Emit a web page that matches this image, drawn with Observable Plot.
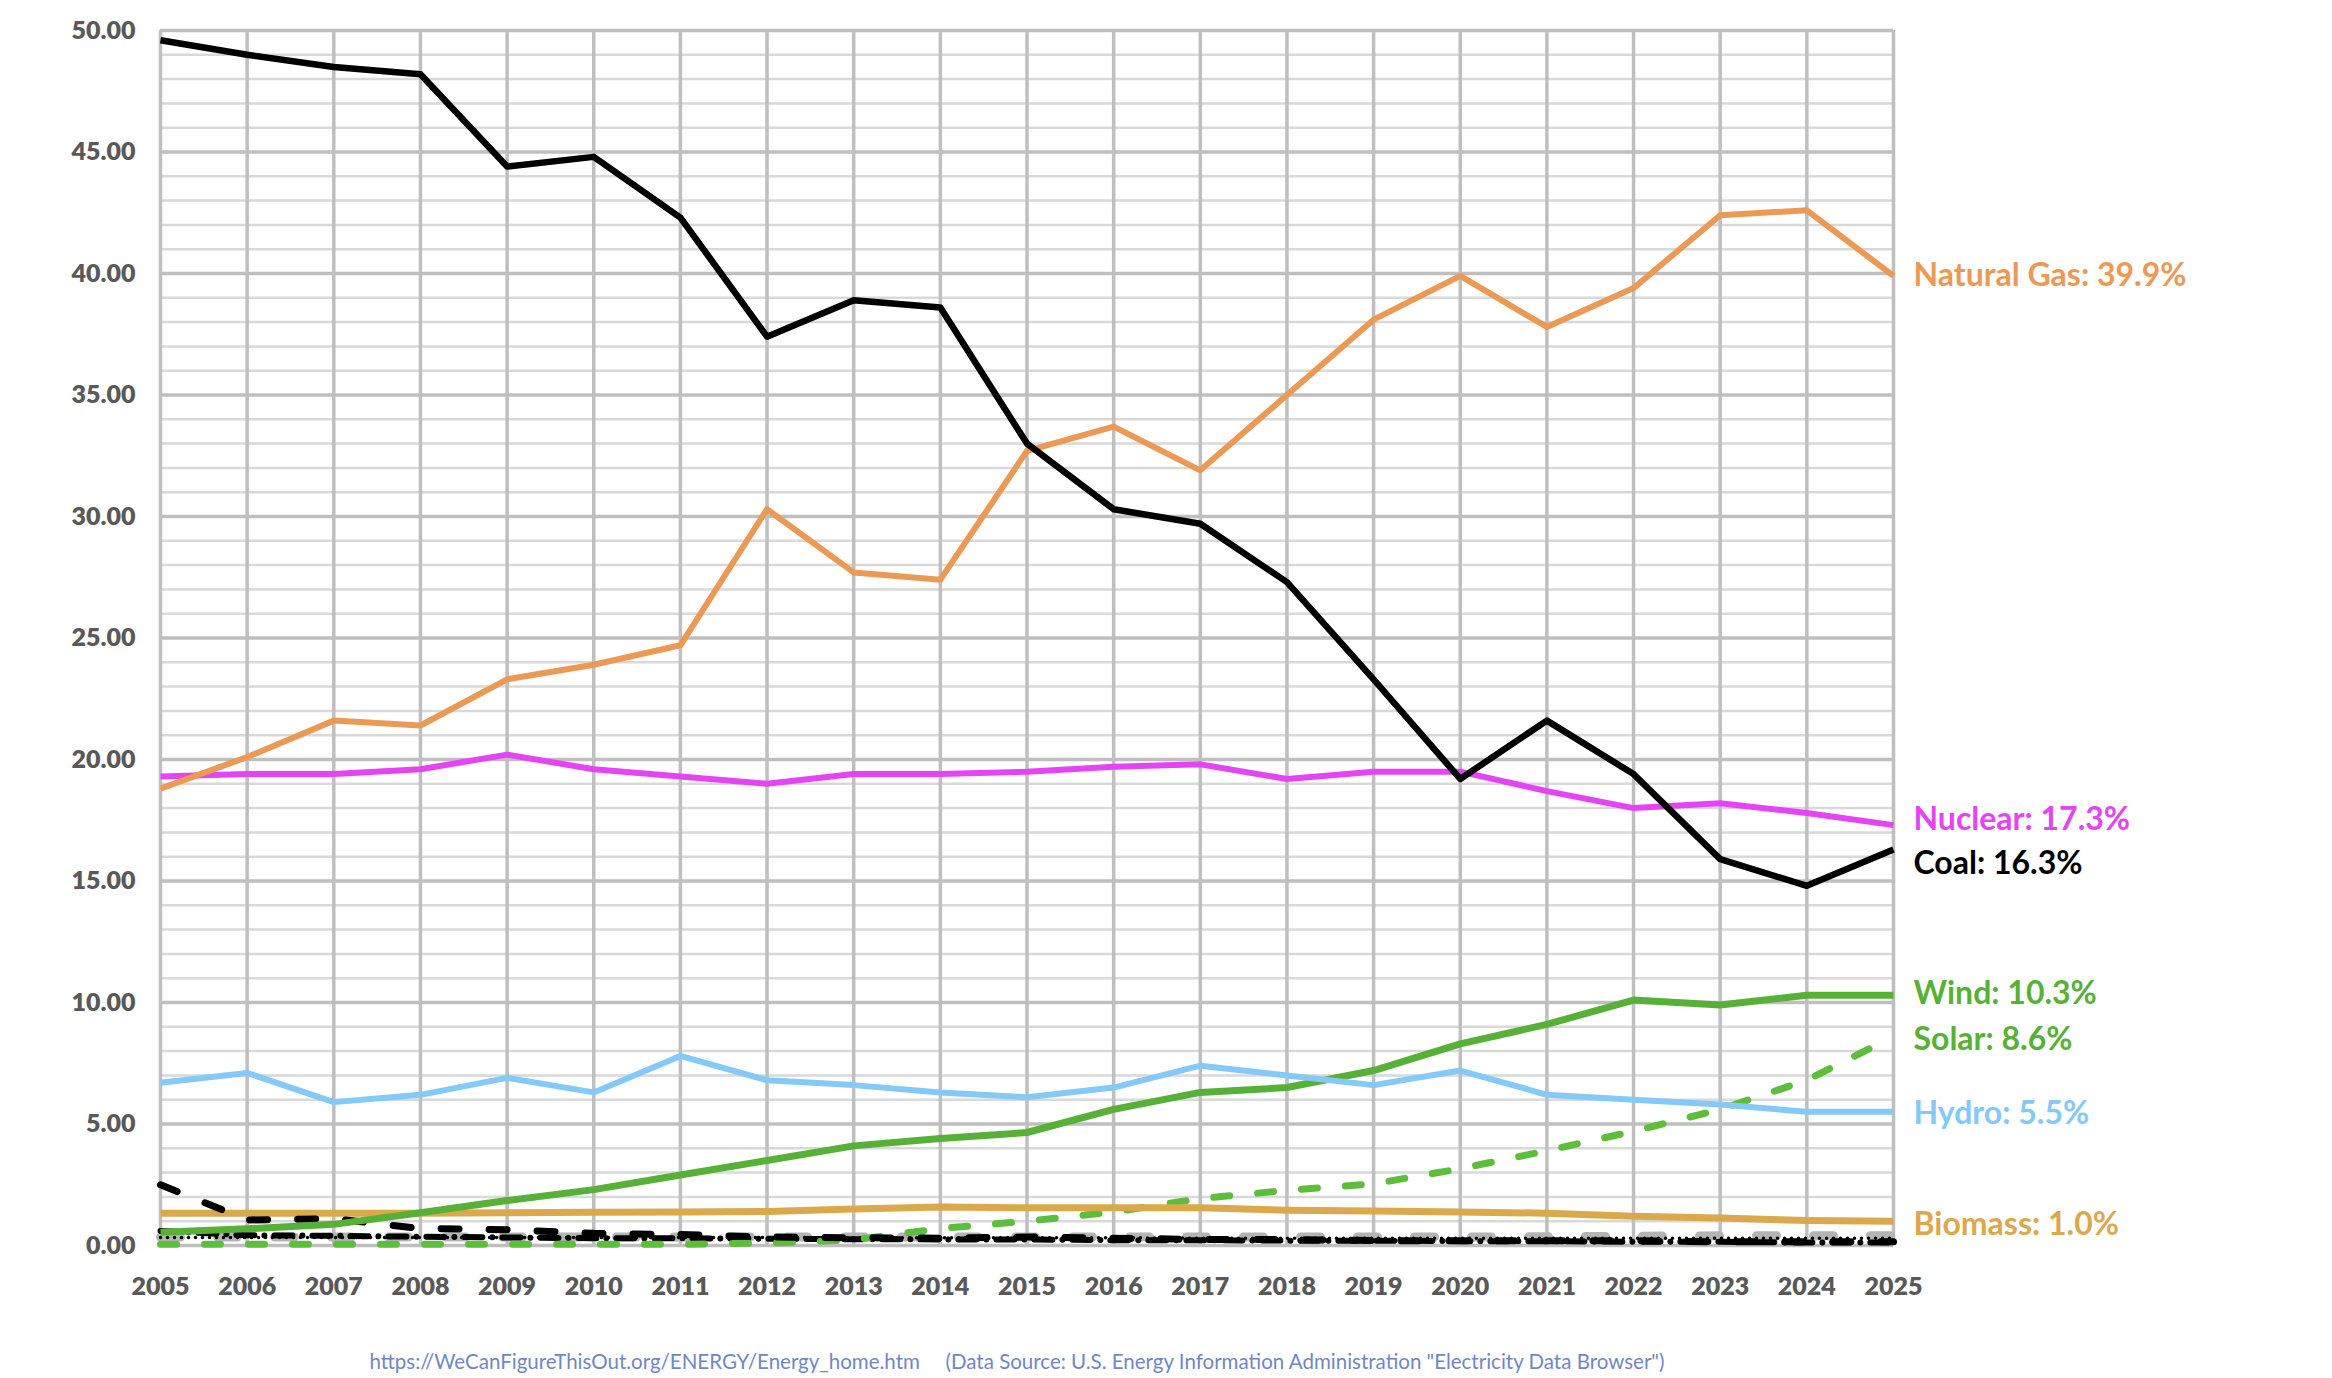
<!DOCTYPE html>
<html>
<head>
<meta charset="utf-8">
<script src="https://cdn.jsdelivr.net/npm/d3@7"></script>
<script src="https://cdn.jsdelivr.net/npm/@observablehq/plot@0.6"></script>
<style>
  html, body { margin: 0; padding: 0; background: #fff; }
  #chart svg { display: block; }
</style>
</head>
<body>
<div id="chart"></div>
<script>
// ---------- data ----------
const years = [2005,2006,2007,2008,2009,2010,2011,2012,2013,2014,2015,2016,2017,2018,2019,2020,2021,2022,2023,2024,2025];
const yTicks = [0,5,10,15,20,25,30,35,40,45,50];

const coal       = [49.6,49.0,48.5,48.2,44.4,44.8,42.3,37.4,38.9,38.6,33.0,30.3,29.7,27.3,23.3,19.2,21.6,19.4,15.9,14.8,16.3];
const naturalGas = [18.8,20.1,21.6,21.4,23.3,23.9,24.7,30.3,27.7,27.4,32.7,33.7,31.9,35.0,38.1,39.9,37.8,39.4,42.4,42.6,39.9];
const nuclear    = [19.3,19.4,19.4,19.6,20.2,19.6,19.3,19.0,19.4,19.4,19.5,19.7,19.8,19.2,19.5,19.5,18.7,18.0,18.2,17.8,17.3];
const hydro      = [6.7,7.1,5.9,6.2,6.9,6.3,7.8,6.8,6.6,6.3,6.1,6.5,7.4,7.0,6.6,7.2,6.2,6.0,5.8,5.5,5.5];
const wind       = [0.55,0.69,0.87,1.35,1.85,2.3,2.9,3.5,4.1,4.4,4.65,5.6,6.3,6.5,7.2,8.3,9.1,10.1,9.9,10.3,10.3];
const solar      = [0.05,0.05,0.05,0.05,0.05,0.05,0.05,0.1,0.23,0.7,1.0,1.38,1.93,2.27,2.54,3.16,3.9,4.7,5.6,6.8,8.6];
const biomass    = [1.33,1.33,1.33,1.33,1.35,1.37,1.38,1.4,1.5,1.58,1.55,1.55,1.55,1.45,1.42,1.38,1.33,1.2,1.13,1.03,1.0];
const petroleum  = [2.5,1.05,1.1,0.7,0.65,0.5,0.45,0.35,0.32,0.3,0.35,0.3,0.25,0.25,0.2,0.2,0.2,0.2,0.15,0.15,0.15];
const otherGray  = [0.35,0.35,0.35,0.35,0.35,0.35,0.35,0.35,0.35,0.35,0.35,0.35,0.35,0.35,0.35,0.35,0.36,0.38,0.4,0.4,0.4];
const otherDots  = [0.33,0.33,0.33,0.33,0.33,0.33,0.33,0.33,0.32,0.32,0.32,0.32,0.3,0.3,0.3,0.3,0.3,0.3,0.3,0.3,0.3];
const otherDash  = [0.6,0.42,0.4,0.36,0.33,0.3,0.3,0.28,0.26,0.25,0.25,0.22,0.22,0.2,0.2,0.18,0.18,0.15,0.15,0.12,0.12];

const labelNames = ["Natural Gas","Nuclear","Coal","Wind","Solar","Hydro","Biomass"];
const sourceUrl  = "https://WeCanFigureThisOut.org/ENERGY/Energy_home.htm";
const sourceNote = "(Data Source: U.S. Energy Information Administration \"Electricity Data Browser\")";

// ---------- styles ----------
const styles = {
  "Coal":        {values: coal,       stroke: "#000000", width: 6.5},
  "Natural Gas": {values: naturalGas, stroke: "#EB9A56", width: 6},
  "Nuclear":     {values: nuclear,    stroke: "#E444F4", width: 6},
  "Hydro":       {values: hydro,      stroke: "#84C9F7", width: 6},
  "Wind":        {values: wind,       stroke: "#58B137", width: 7},
  "Solar":       {values: solar,      stroke: "#5DBE3B", width: 7, dash: "16 28", cap: "round"},
  "Biomass":     {values: biomass,    stroke: "#DCA84C", width: 7},
  "OtherGray":   {values: otherGray,  stroke: "#B4B4B4", width: 9, dash: "20 37", cap: "round"},
  "OtherDots":   {values: otherDots,  stroke: "#000000", width: 3.5, dash: "0 7", cap: "round"},
  "OtherDash":   {values: otherDash,  stroke: "#000000", width: 6, dash: "18 10 0 10", cap: "round"},
  "Petroleum":   {values: petroleum,  stroke: "#000000", width: 7, dash: "18 30", cap: "round"}
};
const labelStyle = {
  "Natural Gas": {fill: "#EB9A56", dy: 0},
  "Nuclear":     {fill: "#E444F4", dy: -5},
  "Coal":        {fill: "#000000", dy: 14},
  "Wind":        {fill: "#58B137", dy: -1},
  "Solar":       {fill: "#58B137", dy: 3},
  "Hydro":       {fill: "#84C9F7", dy: 2},
  "Biomass":     {fill: "#DCA84C", dy: 4}
};
const drawOrder = ["OtherGray","OtherDots","OtherDash","Solar","Biomass","Petroleum","Wind","Hydro","Nuclear","Natural Gas","Coal"];

const W = 2332, H = 1378;
const mLeft = 160, mRight = 439, mTop = 30, mBottom = 133;

const lineMarks = drawOrder.map(name => {
  const s = styles[name];
  return Plot.line(years.map((y, i) => ({year: y, value: s.values[i]})), {
    x: "year", y: "value",
    stroke: s.stroke, strokeWidth: s.width,
    strokeDasharray: s.dash, strokeLinecap: s.cap || "butt", strokeLinejoin: "round"
  });
});

const labelMarks = labelNames.map(name => {
  const vals = styles[name].values;
  const last = vals[vals.length - 1];
  return Plot.text([{year: years[years.length - 1], value: last, label: `${name}: ${last.toFixed(1)}%`}], {
    x: "year", y: "value", text: "label",
    textAnchor: "start", dx: 20, dy: labelStyle[name].dy,
    fill: labelStyle[name].fill, fontSize: 32, fontWeight: 700
  });
});

const minorY = d3.range(0, 51, 1).filter(v => v % 5 !== 0);

const chart = Plot.plot({
  width: W, height: H,
  marginLeft: mLeft, marginRight: mRight, marginTop: mTop, marginBottom: mBottom,
  style: {fontFamily: "Lato, 'Open Sans', sans-serif", background: "#fff", overflow: "visible"},
  x: {type: "linear", domain: [2005, 2025]},
  y: {domain: [0, 50]},
  marks: [
    Plot.ruleY(minorY, {stroke: "#D9D9D9", strokeWidth: 2.5}),
    Plot.ruleY(yTicks, {stroke: "#BFBFBF", strokeWidth: 3.5}),
    Plot.ruleX(years, {stroke: "#BFBFBF", strokeWidth: 3.5}),
    Plot.axisY(yTicks, {tickSize: 0, tickPadding: 25, tickFormat: d => d.toFixed(2), fontSize: 25, fontWeight: 800, fill: "#595959", label: null}),
    Plot.axisX(years, {tickSize: 0, tickPadding: 32, tickFormat: d => String(d), fontSize: 25, fontWeight: 800, fill: "#595959", label: null}),
    ...lineMarks,
    ...labelMarks,
    Plot.text([sourceUrl], {frameAnchor: "bottom-left", dx: 369 - mLeft, dy: 123, textAnchor: "start", fill: "#6F88C4", fontSize: 20.5, fontWeight: 400}),
    Plot.text([sourceNote], {frameAnchor: "bottom-left", dx: 945 - mLeft, dy: 123, textAnchor: "start", fill: "#6F88C4", fontSize: 20.5, fontWeight: 400})
  ]
});
document.getElementById("chart").appendChild(chart);
</script>
</body>
</html>
